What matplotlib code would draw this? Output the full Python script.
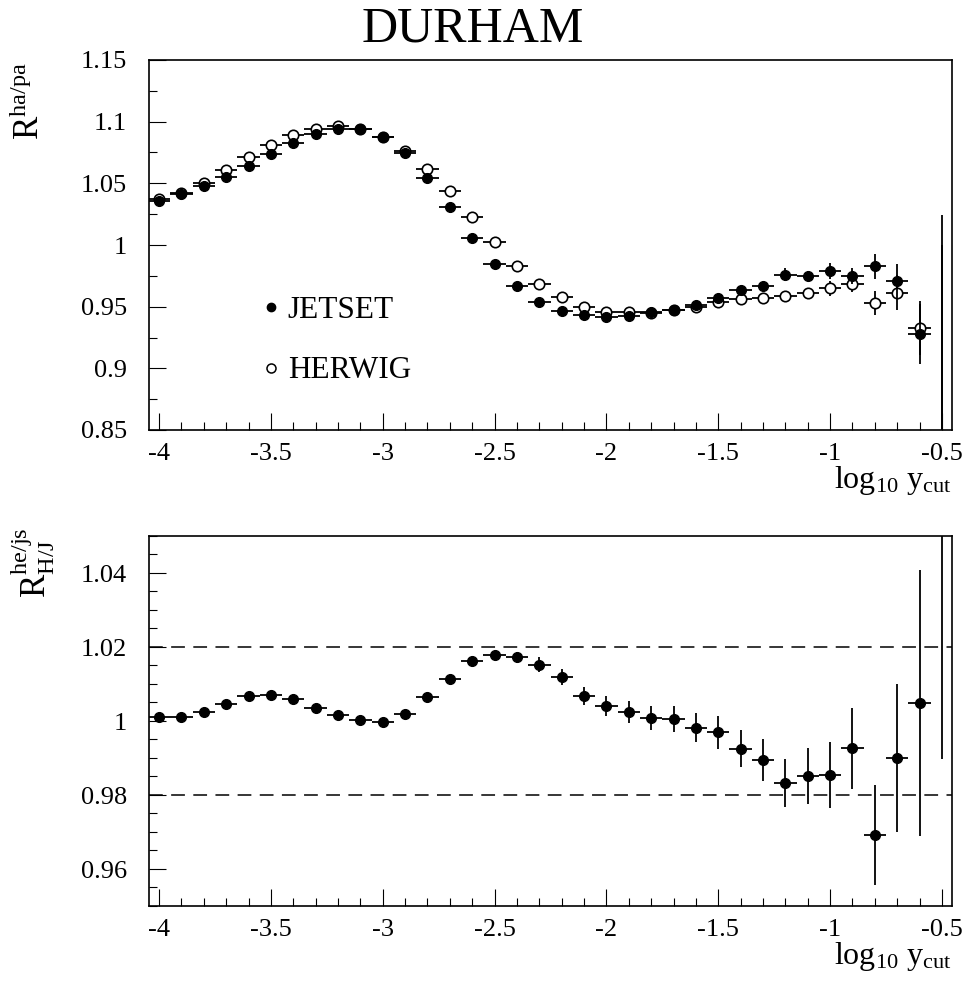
import matplotlib
matplotlib.use("Agg")
import matplotlib.pyplot as plt
from matplotlib.ticker import MultipleLocator, FormatStrFormatter

plt.rcParams.update({
    "font.family": "Liberation Serif",
    "mathtext.fontset": "custom",
    "mathtext.rm": "Liberation Serif",
    "mathtext.it": "Liberation Serif:italic",
    "axes.unicode_minus": False,
})

# log10(ycut) bin centres, bin half-width 0.05
LOGY = [-4.0, -3.9, -3.8, -3.7, -3.6, -3.5, -3.4, -3.3, -3.2, -3.1,
        -3.0, -2.9, -2.8, -2.7, -2.6, -2.5, -2.4, -2.3, -2.2, -2.1,
        -2.0, -1.9, -1.8, -1.7, -1.6, -1.5, -1.4, -1.3, -1.2, -1.1,
        -1.0, -0.9, -0.8, -0.7, -0.6, -0.5]
HALF_BIN = 0.05

# hadron/parton ratio, JETSET
JETSET = [1.0357, 1.0411, 1.0478, 1.0554, 1.0640, 1.0735, 1.0827, 1.0900, 1.0943, 1.0938,
          1.0873, 1.0743, 1.0546, 1.0310, 1.0060, 0.9846, 0.9668, 0.9538, 0.9465, 0.9435,
          0.9419, 0.9422, 0.9455, 0.9473, 0.9514, 0.9568, 0.9633, 0.9668, 0.9760, 0.9749,
          0.9792, 0.9751, 0.9826, 0.9710, 0.9278, 0.7800]
JETSET_ERR = [0.0005, 0.0005, 0.0005, 0.0005, 0.0005, 0.0005, 0.0005, 0.0005, 0.0005, 0.0005,
              0.0005, 0.0006, 0.0006, 0.0007, 0.0007, 0.0008, 0.0008, 0.0009, 0.0009, 0.0010,
              0.0010, 0.0010, 0.0015, 0.0015, 0.0020, 0.0020, 0.0030, 0.0030, 0.0050, 0.0040,
              0.0065, 0.0065, 0.0100, 0.0140, 0.0240, 0.2440]

# hadron/parton ratio, HERWIG
HERWIG = [1.0370, 1.0425, 1.0500, 1.0606, 1.0711, 1.0811, 1.0892, 1.0943, 1.0965, 1.0940,
          1.0876, 1.0762, 1.0614, 1.0435, 1.0230, 1.0024, 0.9832, 0.9684, 0.9581, 0.9495,
          0.9460, 0.9455, 0.9449, 0.9470, 0.9497, 0.9535, 0.9562, 0.9570, 0.9590, 0.9609,
          0.9649, 0.9681, 0.9530, 0.9614, 0.9330, 0.8000]
HERWIG_ERR = [0.0005, 0.0005, 0.0005, 0.0005, 0.0005, 0.0005, 0.0005, 0.0005, 0.0005, 0.0005,
              0.0005, 0.0006, 0.0006, 0.0007, 0.0007, 0.0008, 0.0008, 0.0009, 0.0009, 0.0010,
              0.0010, 0.0010, 0.0015, 0.0015, 0.0020, 0.0020, 0.0025, 0.0030, 0.0040, 0.0040,
              0.0060, 0.0065, 0.0095, 0.0140, 0.0220, 0.2000]

# HERWIG/JETSET double ratio
RATIO = [1.0011, 1.0011, 1.0023, 1.0045, 1.0067, 1.0070, 1.0059, 1.0036, 1.0017, 1.0004,
         0.9997, 1.0018, 1.0064, 1.0114, 1.0163, 1.0179, 1.0172, 1.0152, 1.0119, 1.0068,
         1.0041, 1.0025, 1.0008, 1.0005, 0.9982, 0.9969, 0.9925, 0.9895, 0.9832, 0.9851,
         0.9853, 0.9926, 0.9692, 0.9899, 1.0048, 1.0600]
RATIO_ERR = [0.0002, 0.0002, 0.0002, 0.0002, 0.0003, 0.0003, 0.0003, 0.0003, 0.0003, 0.0004,
             0.0004, 0.0004, 0.0005, 0.0007, 0.0009, 0.0010, 0.0014, 0.0020, 0.0022, 0.0025,
             0.0027, 0.0030, 0.0032, 0.0035, 0.0040, 0.0045, 0.0050, 0.0057, 0.0065, 0.0075,
             0.0089, 0.0110, 0.0135, 0.0200, 0.0360, 0.0702]

TICK_FS = 19
LAB_FS = 25
W = 967 / 100
H = 983 / 100

fig = plt.figure(figsize=(W, H), dpi=100)
axT = fig.add_axes([149 / 967, 1 - 430 / 983, 803 / 967, 370 / 983])
axB = fig.add_axes([149 / 967, 1 - 906 / 983, 803 / 967, 370 / 983])

ebar = dict(xerr=HALF_BIN, fmt="o", capsize=0, elinewidth=1.3, ecolor="black")

axT.errorbar(LOGY, HERWIG, yerr=HERWIG_ERR, ms=7.5, mfc="white", mec="black",
             mew=1.2, zorder=3, **ebar)
axT.errorbar(LOGY, JETSET, yerr=JETSET_ERR, ms=7, mfc="black", mec="black",
             zorder=4, **ebar)
axB.errorbar(LOGY, RATIO, yerr=RATIO_ERR, ms=7, mfc="black", mec="black",
             zorder=4, **ebar)

for lvl in (1.02, 0.98):
    axB.axhline(lvl, color="black", lw=1.1, ls=(0, (9, 5.5)), zorder=2)

# in-frame key
axT.plot([-3.5], [0.95], "o", ms=6, color="black")
axT.plot([-3.5], [0.90], "o", ms=6.5, mfc="white", mec="black", mew=1.1)
axT.text(-3.425, 0.9406, "JETSET", fontsize=22.5, ha="left", va="baseline")
axT.text(-3.425, 0.8918, "HERWIG", fontsize=22.5, ha="left", va="baseline")

axT.set_ylim(0.85, 1.15)
axT.yaxis.set_major_locator(MultipleLocator(0.05))
axT.yaxis.set_minor_locator(MultipleLocator(0.025))
axB.set_ylim(0.95, 1.05)
axB.yaxis.set_major_locator(MultipleLocator(0.02))
axB.yaxis.set_minor_locator(MultipleLocator(0.005))

for ax in (axT, axB):
    ax.set_xlim(-4.045, -0.455)
    ax.xaxis.set_major_locator(MultipleLocator(0.5))
    ax.xaxis.set_minor_locator(MultipleLocator(0.1))
    ax.xaxis.set_major_formatter(FormatStrFormatter("%g"))
    ax.yaxis.set_major_formatter(FormatStrFormatter("%g"))
    ax.tick_params(which="both", direction="in", top=False, right=False,
                   labelsize=TICK_FS, width=0.8)
    ax.tick_params(which="major", length=12)
    ax.tick_params(which="minor", length=5.8)
    ax.tick_params(axis="x", which="major", pad=9)
    ax.tick_params(axis="y", which="major", pad=16)
    for sp in ax.spines.values():
        sp.set_linewidth(1.2)
    ax.text(1.0, -0.092, r"$\mathregular{log_{10}\ y_{cut}}$", transform=ax.transAxes,
            fontsize=23, ha="right", va="top")

axT.text(-0.148, 0.995, r"$\mathregular{R^{ha/pa}}$", transform=axT.transAxes,
         fontsize=LAB_FS, rotation=90, ha="center", va="top")
axB.text(-0.145, 1.024, r"$\mathregular{R_{H/J}^{he/js}}$", transform=axB.transAxes,
         fontsize=LAB_FS, rotation=90, ha="center", va="top")

fig.text(473 / 967, 1 - 6 / 983, "DURHAM", fontsize=36, ha="center", va="top")

fig.savefig("out.png", dpi=100, facecolor="white")
